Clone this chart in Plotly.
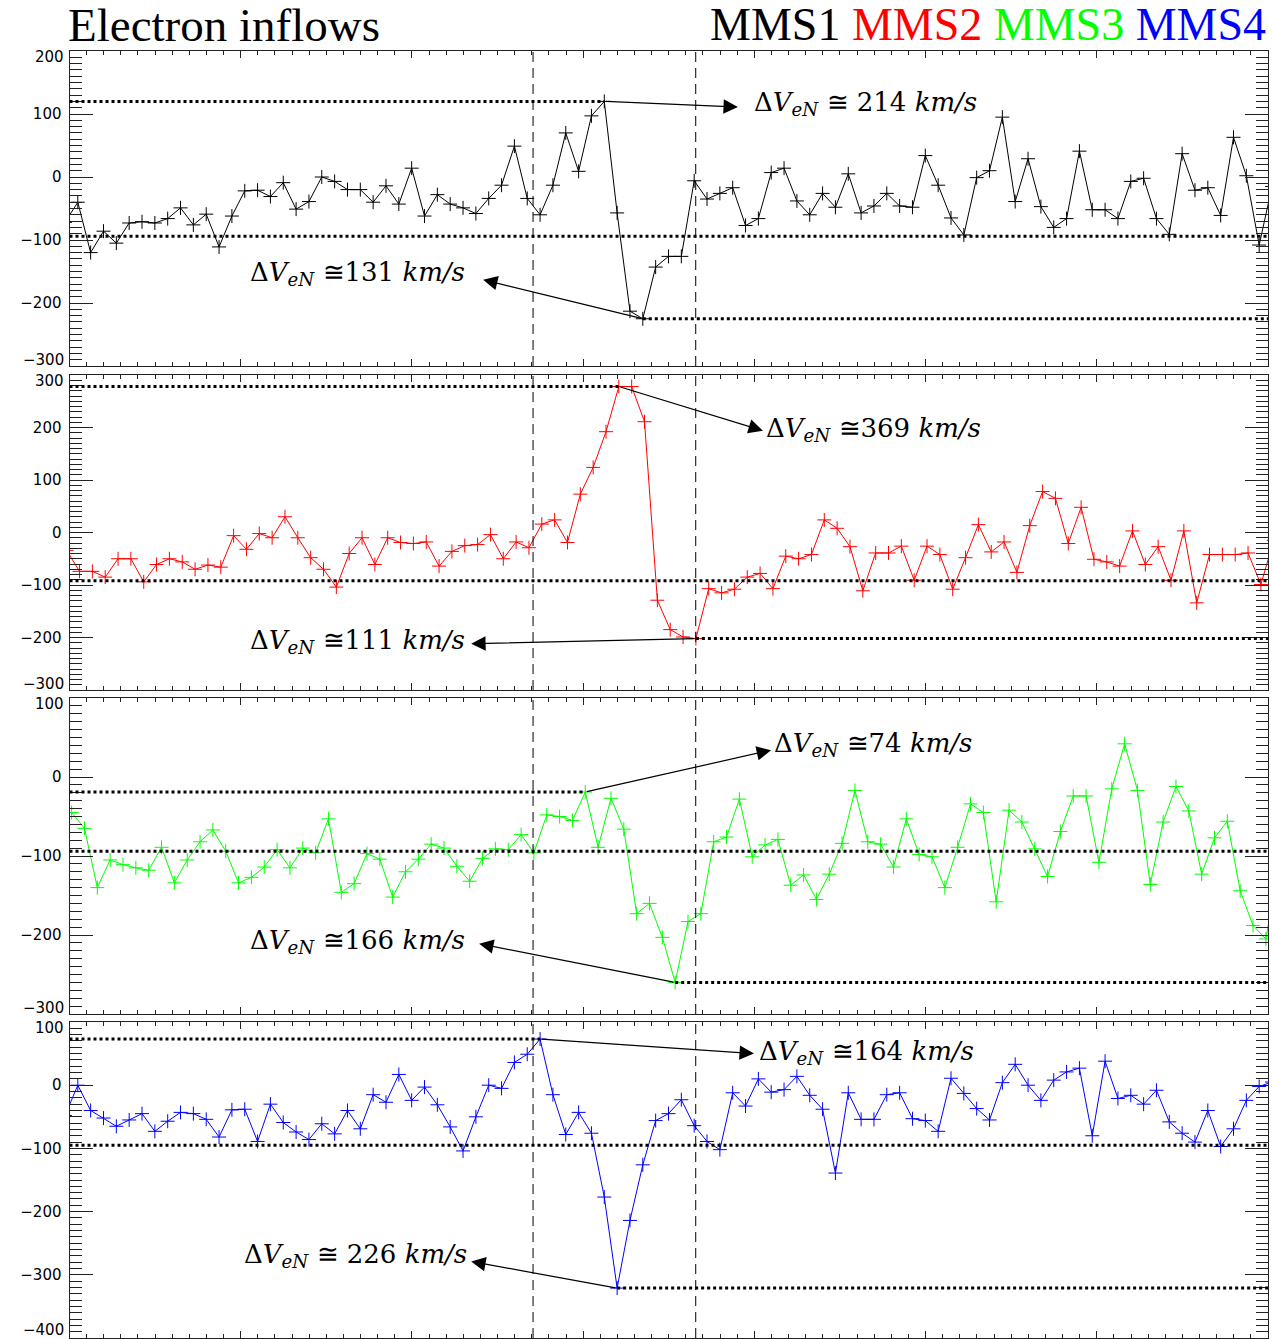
import numpy as np
import plotly.graph_objects as go

# ---------------- data (km/s) ----------------
DT = 0.03  # sample cadence [s]
T_START = {"MMS1": -0.0106, "MMS2": -0.0066, "MMS3": 0.005, "MMS4": -0.0106}

mms1 = [-72, -40, -120, -86, -105, -73, -71, -73, -66, -49, -76, -59, -111, -62, -22, -21, -31, -9, -51, -39,
        0, -7, -20, -20, -40, -14, -43, 14, -62, -28, -43, -49, -58, -34, -13, 49, -34, -60, -13, 70,
        9, 97, 120, -57, -213, -225, -143, -126, -126, -6, -35, -26, -17, -77, -66, 7, 14, -38, -60, -26,
        -48, 5, -57, -46, -26, -46, -48, 34, -13, -65, -92, -1, 10, 95, -39, 29, -47, -80, -66, 41,
        -52, -52, -66, -7, -2, -66, -91, 37, -21, -17, -61, 63, 2, -108, -15]

mms2 = [-34, -74, -74, -85, -50, -50, -94, -61, -50, -56, -70, -62, -66, -6, -32, -2, -10, 30, -10, -48,
        -70, -104, -40, -10, -61, -10, -19, -21, -18, -64, -36, -25, -23, -4, -50, -18, -29, 16, 24, -19,
        73, 124, 192, 278, 278, 211, -129, -185, -199, -202, -107, -115, -108, -85, -78, -107, -45, -50, -42, 24,
        8, -27, -111, -39, -39, -26, -91, -26, -42, -108, -48, 15, -37, -18, -76, 13, 78, 65, -21, 48,
        -51, -56, -64, 3, -61, -27, -91, 3, -134, -42, -42, -42, -39, -99, -15]

mms3 = [-45, -65, -140, -105, -111, -115, -118, -89, -134, -105, -82, -67, -94, -134, -127, -114, -92, -115, -90, -96,
        -53, -146, -135, -97, -104, -152, -120, -104, -85, -90, -113, -132, -103, -91, -92, -73, -96, -48, -50, -55,
        -19, -89, -27, -66, -173, -160, -203, -260, -183, -173, -82, -76, -28, -101, -86, -79, -137, -124, -155, -123,
        -84, -17, -82, -85, -114, -53, -98, -101, -140, -89, -34, -45, -158, -42, -57, -91, -126, -69, -24, -24,
        -108, -15, 42, -17, -136, -57, -12, -43, -123, -77, -56, -144, -188, -205, -110]

mms4 = [-48, 0, -40, -52, -65, -55, -45, -73, -57, -43, -45, -54, -82, -39, -38, -89, -30, -59, -74, -86,
        -61, -77, -40, -69, -15, -27, 17, -24, -3, -31, -66, -104, -50, 0, -5, 36, 49, 73, -15, -78,
        -43, -76, -177, -321, -214, -126, -56, -45, -23, -64, -89, -102, -12, -33, 10, -11, -7, 14, -16, -38,
        -139, -12, -54, -54, -15, -12, -53, -56, -73, 11, -13, -37, -55, 4, 33, 0, -24, 8, 21, 27,
        -80, 38, -21, -16, -30, -8, -58, -76, -90, -40, -97, -69, -24, -2, 5]

series_names = ["MMS1", "MMS2", "MMS3", "MMS4"]
series_values = [mms1, mms2, mms3, mms4]
series_colors = ["#000000", "#ff0000", "#00ff00", "#0000ff"]

# y ranges of the four panels
y_ranges = [(-300, 200), (-300, 300), (-300, 100), (-400, 100)]

# annotated velocity jumps
delta_up = [214, 369, 74, 164]
delta_down = [131, 111, 166, 226]
up_labels = ["ΔV_eN ≅ 214 km/s", "ΔV_eN ≅369 km/s", "ΔV_eN ≅74 km/s", "ΔV_eN ≅164 km/s"]
down_labels = ["ΔV_eN ≅131 km/s", "ΔV_eN ≅111 km/s", "ΔV_eN ≅166 km/s", "ΔV_eN ≅ 226 km/s"]
peak_idx = [42, 43, 40, 37]
min_idx = [45, 49, 47, 43]
base_level = [-94, -92, -94, -95]

# vertical event lines [s]
event_times = [1.083, 1.463]

X_RANGE = (0.0, 2.8)

# ---------------- layout geometry ----------------
W, H = 1272, 1339
def py(p):
    return 1 - p / H

x_dom = [69.5 / W, 1268 / W]
panel_px = [(51, 366), (375, 690), (698, 1014), (1022, 1338)]

fig = go.Figure()

def xn(i):
    return "x" if i == 1 else f"x{i}"

def yn(i):
    return "y" if i == 1 else f"y{i}"

def fmt_label(s):
    # "ΔV_eN ≅ 214 km/s" -> rich text with italic V, subscript eN and italic units
    s = s.replace("ΔV_eN", "Δ<i>V<sub>eN</sub></i>")
    s = s.replace("km/s", "<i>km/s</i>")
    return s

FRAME = "#222222"
TICKFONT = dict(family="DejaVu Sans", size=15, color="#000000")
LABELFONT = dict(family="DejaVu Serif", size=26, color="#000000")

annotations = []
shapes = []

ann_pos = {
    1: dict(up_head=(1.5615, 111), up_txt=(1.594, 117), dn_head=(0.9663, -163), dn_txt=(0.9287, -153)),
    2: dict(up_head=(1.620, 194), up_txt=(1.623, 196), dn_head=(0.9385, -212), dn_txt=(0.9287, -207)),
    3: dict(up_head=(1.639, 34), up_txt=(1.641, 41), dn_head=(0.957, -211), dn_txt=(0.9287, -208)),
    4: dict(up_head=(1.599, 50), up_txt=(1.606, 51), dn_head=(0.9385, -279), dn_txt=(0.933, -269)),
}

for k in range(4):
    i = k + 1
    vals = series_values[k]
    t = T_START[series_names[k]] + DT * np.arange(len(vals))
    col = series_colors[k]
    fig.add_trace(go.Scatter(
        x=t, y=vals, mode="lines+markers",
        line=dict(color=col, width=1),
        marker=dict(symbol="cross-thin", size=10, line=dict(color=col, width=1)),
        xaxis=xn(i), yaxis=yn(i), showlegend=False, cliponaxis=True,
    ))
    lo, hi = y_ranges[k]
    top, bot = panel_px[k]
    major = list(range(lo, hi + 1, 100))
    ticktext = ["" if v in (lo, hi) else f"{v}".replace("-", "\u2212") for v in major]
    fig.layout[f"xaxis{i}"] = dict(
        domain=x_dom, range=list(X_RANGE), anchor=yn(i),
        showticklabels=False, ticks="inside", ticklen=7, tickwidth=1, tickcolor=FRAME,
        tick0=0, dtick=0.4,
        minor=dict(ticks="inside", ticklen=4, dtick=0.04, tickcolor=FRAME, tickwidth=1),
        showline=True, linecolor=FRAME, linewidth=1, mirror="ticks",
        showgrid=False, zeroline=False, fixedrange=True,
    )
    fig.layout[f"yaxis{i}"] = dict(
        domain=[py(bot), py(top)], range=[lo, hi], anchor=xn(i),
        tickmode="array", tickvals=major, ticktext=ticktext,
        ticks="inside", ticklen=23, tickwidth=1, tickcolor=FRAME,
        minor=dict(ticks="inside", ticklen=12, dtick=10, tick0=0, tickcolor=FRAME, tickwidth=1),
        showline=True, linecolor=FRAME, linewidth=1, mirror="ticks",
        showgrid=False, zeroline=False, tickfont=TICKFONT, ticklabelstandoff=4,
        fixedrange=True,
    )
    # end tick labels shifted inward
    for v, sh in ((hi, -6), (lo, 8 if i == 4 else 6)):
        annotations.append(dict(
            x=x_dom[0], xref="paper", y=v, yref=yn(i), xanchor="right", yanchor="middle",
            xshift=-4, yshift=sh, showarrow=False,
            text=f"{v}".replace("-", "\u2212"), font=TICKFONT,
        ))

    # reference levels
    p_i, m_i = peak_idx[k], min_idx[k]
    peak_v, min_v = vals[p_i], vals[m_i]
    dot = dict(color="#000000", width=3, dash="dot")
    shapes.append(dict(type="line", xref=xn(i), yref=yn(i), x0=X_RANGE[0], x1=t[p_i],
                       y0=peak_v, y1=peak_v, line=dot))
    shapes.append(dict(type="line", xref=xn(i), yref=yn(i), x0=X_RANGE[0], x1=X_RANGE[1],
                       y0=base_level[k], y1=base_level[k], line=dot))
    shapes.append(dict(type="line", xref=xn(i), yref=yn(i), x0=t[m_i], x1=X_RANGE[1],
                       y0=min_v, y1=min_v, line=dot))
    for et in event_times:
        shapes.append(dict(type="line", xref=xn(i), yref=f"{yn(i)} domain", x0=et, x1=et,
                           y0=0, y1=1, line=dict(color="#000000", width=1, dash="10px,6px")))

    # arrows + labels
    tails = dict(up=(t[p_i], peak_v), dn=(t[m_i], min_v))
    pos = ann_pos[i]
    for which in ("up", "dn"):
        tail = tails[which]
        hx, hy = pos[f"{which}_head"]
        annotations.append(dict(
            x=hx, y=hy, ax=tail[0], ay=tail[1], xref=xn(i), yref=yn(i), axref=xn(i), ayref=yn(i),
            text="", showarrow=True, arrowhead=2, arrowsize=2.4, arrowwidth=1.2, arrowcolor="#000000",
            standoff=0, startstandoff=0,
        ))
        tx, ty = pos[f"{which}_txt"]
        label = up_labels[k] if which == "up" else down_labels[k]
        annotations.append(dict(
            x=tx, y=ty, xref=xn(i), yref=yn(i), showarrow=False,
            xanchor="left" if which == "up" else "right", yanchor="middle",
            text=fmt_label(label), font=LABELFONT,
        ))

# title and spacecraft legend
annotations.append(dict(x=66 / W, y=py(25), xref="paper", yref="paper", xanchor="left", yanchor="middle",
                        showarrow=False, text="Electron inflows",
                        font=dict(family="Liberation Serif", size=47, color="#000000")))
legend_txt = " ".join(f"<span style='color:{c}'>{n}</span>" for n, c in zip(series_names, series_colors))
annotations.append(dict(x=1268 / W, y=py(25), xref="paper", yref="paper", xanchor="right", yanchor="middle",
                        showarrow=False, text=legend_txt,
                        font=dict(family="Liberation Serif", size=46, color="#000000")))

fig.update_layout(
    width=W, height=H, margin=dict(l=0, r=0, t=0, b=0),
    paper_bgcolor="white", plot_bgcolor="white",
    annotations=annotations, shapes=shapes, showlegend=False,
)

fig.write_html("out.html")
